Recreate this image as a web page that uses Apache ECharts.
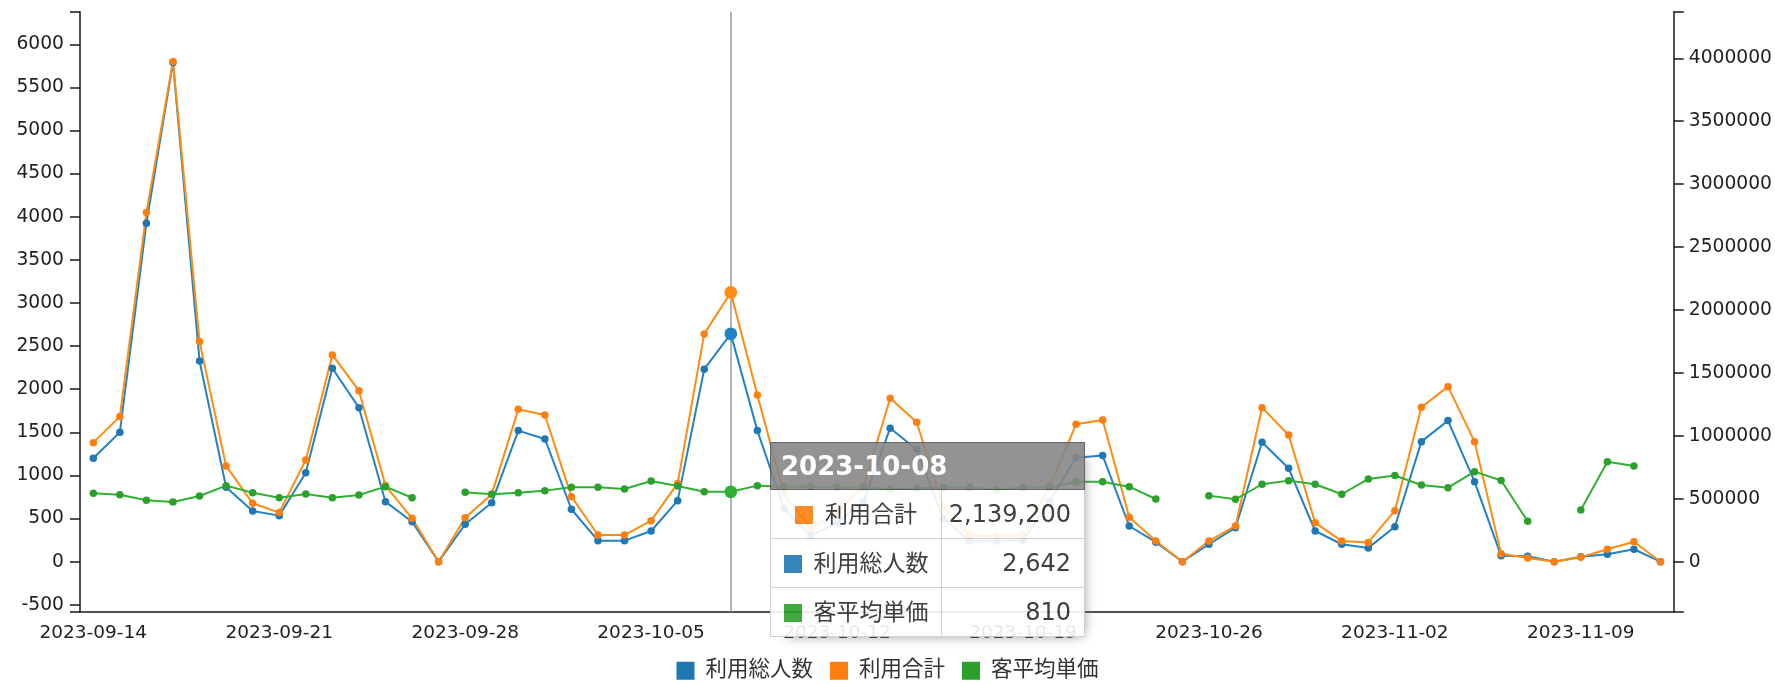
<!DOCTYPE html>
<html>
<head>
<meta charset="utf-8">
<script src="https://cdn.jsdelivr.net/npm/echarts@6/dist/echarts.min.js"></script>
<style>
html,body{margin:0;padding:0;background:#fff;}
#chart{width:1775px;height:684px;}
</style>
</head>
<body>
<div id="chart"></div>
<script>
const dates = [
 '2023-09-14','2023-09-15','2023-09-16','2023-09-17','2023-09-18','2023-09-19','2023-09-20',
 '2023-09-21','2023-09-22','2023-09-23','2023-09-24','2023-09-25','2023-09-26','2023-09-27',
 '2023-09-28','2023-09-29','2023-09-30','2023-10-01','2023-10-02','2023-10-03','2023-10-04',
 '2023-10-05','2023-10-06','2023-10-07','2023-10-08','2023-10-09','2023-10-10','2023-10-11',
 '2023-10-12','2023-10-13','2023-10-14','2023-10-15','2023-10-16','2023-10-17','2023-10-18',
 '2023-10-19','2023-10-20','2023-10-21','2023-10-22','2023-10-23','2023-10-24','2023-10-25',
 '2023-10-26','2023-10-27','2023-10-28','2023-10-29','2023-10-30','2023-10-31','2023-11-01',
 '2023-11-02','2023-11-03','2023-11-04','2023-11-05','2023-11-06','2023-11-07','2023-11-08',
 '2023-11-09','2023-11-10','2023-11-11','2023-11-12'
];
// 利用総人数 (left axis)
const users = [
 1200,1501,3925,5790,2328,863,588,
 534,1032,2243,1786,696,464,0,
 434,684,1520,1423,608,244,244,
 356,708,2232,2642,1520,620,300,
 450,700,1548,1300,500,244,240,
 250,700,1206,1230,414,226,0,
 202,394,1385,1083,356,202,160,
 406,1392,1636,928,68,62,0,
 58,86,144,0
];
// 利用合計 (right axis)
const totals = [
 946000,1153000,2774000,3975000,1749000,761000,464000,
 390000,808000,1643000,1359000,605000,345000,0,
 350000,535000,1211000,1166000,517000,212000,212000,
 326000,622000,1810000,2139200,1325000,540000,260000,
 390000,600000,1299000,1108000,430000,210000,200000,
 210000,600000,1092000,1126000,353000,164000,0,
 164000,284000,1224000,1007000,310000,164000,153000,
 405000,1227000,1391000,954000,64000,29000,0,
 35000,98600,159000,0
];
// 客平均単価 (left axis)
const avgPrice = [
 793,777,712,692,762,882,800,
 742,785,742,774,870,742,null,
 805,782,800,824,863,863,843,
 936,878,812,810,882,870,870,
 860,860,840,850,860,860,830,
 860,860,928,928,870,727,null,
 766,724,898,940,898,782,960,
 1000,890,858,1044,941,468,null,
 600,1160,1110,null
];
const seriesNames = ['利用総人数','利用合計','客平均単価'];
const seriesColors = ['#1f77b4','#ff7f0e','#2ca02c'];
const leftTicks = [-500,0,500,1000,1500,2000,2500,3000,3500,4000,4500,5000,5500,6000];
const rightTicks = [0,500000,1000000,1500000,2000000,2500000,3000000,3500000,4000000];
const leftRange = [-580, 6378];
const rightRange = [-397300, 4370300];
const tooltipIndex = dates.indexOf('2023-10-08');

const latin = "'DejaVu Sans', 'Noto Sans CJK JP', sans-serif";
const axisText = {color:'#222', fontFamily: latin, fontSize: 18.7, formatter: function(v){ return String(v); }};
const lineC = '#1a1a1a';

function tipHtml(params){
  const ps = params.slice().sort((a,b)=>((b.value==null?-1e18:b.value)-(a.value==null?-1e18:a.value)));
  let h = '<table style="border-collapse:collapse;border-spacing:0;background:#fff;width:315px;color:#2a2a2a;font-family:' + latin.replace(/'/g,'') + ';">';
  h += '<tr><th colspan="2" style="background:#878787;color:#fff;font-weight:bold;font-size:26px;text-align:left;padding:0 0 0 10px;height:46px;border:1.5px solid #555;">' + params[0].axisValue + '</th></tr>';
  ps.forEach(function(p){
    h += '<tr><td style="border:1px solid #ccc;height:48px;width:171px;box-sizing:border-box;text-align:center;font-size:23px;padding:0;">' +
      '<span style="display:inline-block;width:18px;height:18px;background:' + p.color + ';margin-right:12px;vertical-align:-2px;"></span>' + p.seriesName +
      '</td><td style="border:1px solid #ccc;border-left:1px dotted #999;height:48px;text-align:right;padding:0 13px 0 0;font-size:24px;">' +
      (p.value==null?'-':Number(p.value).toLocaleString('en-US')) + '</td></tr>';
  });
  return h + '</table>';
}

const chart = echarts.init(document.getElementById('chart'), null, {renderer:'canvas'});
const option = {
  animation: false,
  grid: {left: 80, right: 98, top: 11.7, bottom: 72.3, containLabel: false},
  legend: {
    top: 660, left: 'center',
    icon: 'rect', itemWidth: 18, itemHeight: 18, itemGap: 17, padding: 0,
    textStyle: {color:'#333', fontSize: 21.5, fontFamily: latin, padding:[0,0,0,6]},
    data: seriesNames
  },
  tooltip: {
    trigger: 'axis', triggerOn: 'none', alwaysShowContent: true,
    transitionDuration: 0, padding: 0, borderWidth: 0, backgroundColor: 'transparent',
    extraCssText: 'box-shadow:7px 7px 12px -9px rgb(119,119,119);opacity:0.9;border-radius:0;',
    position: function(){ return [770, 442]; },
    axisPointer: {type:'line', z: 1, lineStyle:{color:'#9a9a9a', width:1.5, type:'solid'}},
    formatter: tipHtml
  },
  xAxis: {
    type: 'category', data: dates, boundaryGap: true,
    axisLine: {onZero:false, lineStyle:{color: lineC, width:1.5}},
    axisTick: {alignWithLabel:true, interval:0, length:10, lineStyle:{color: lineC, width:1.5}},
    axisLabel: Object.assign({}, axisText, {interval:6, margin:12, fontSize:18.5}),
    splitLine: {show:false}
  },
  yAxis: [{
    type: 'value', min: leftRange[0], max: leftRange[1], position:'left',
    axisLine: {show:true, lineStyle:{color: lineC, width:1.5}},
    axisTick: {show:true, length:10, customValues: [leftRange[0]].concat(leftTicks,[leftRange[1]]), lineStyle:{color: lineC, width:1.5}},
    axisLabel: Object.assign({customValues: leftTicks, margin:16}, axisText),
    splitLine: {show:false}
  },{
    type: 'value', min: rightRange[0], max: rightRange[1], position:'right',
    axisLine: {show:true, lineStyle:{color: lineC, width:1.5}},
    axisTick: {show:true, length:10, customValues: [rightRange[0]].concat(rightTicks,[rightRange[1]]), lineStyle:{color: lineC, width:1.5}},
    axisLabel: Object.assign({customValues: rightTicks, margin:15}, axisText),
    splitLine: {show:false}
  }],
  series: [
    {name: seriesNames[0], type:'line', yAxisIndex:0, data: users},
    {name: seriesNames[1], type:'line', yAxisIndex:1, data: totals},
    {name: seriesNames[2], type:'line', yAxisIndex:0, data: avgPrice}
  ].map(function(s, i){
    return Object.assign(s, {
      color: seriesColors[i], symbol:'circle', symbolSize: 7.5, showSymbol: true,
      lineStyle: {width: 2, color: seriesColors[i]},
      itemStyle: {color: seriesColors[i]},
      emphasis: {scale: 1.7, focus:'none', lineStyle:{width:2}},
      connectNulls: false
    });
  })
};
chart.setOption(option);
chart.dispatchAction({type:'showTip', seriesIndex:0, dataIndex: tooltipIndex});
</script>
</body>
</html>
